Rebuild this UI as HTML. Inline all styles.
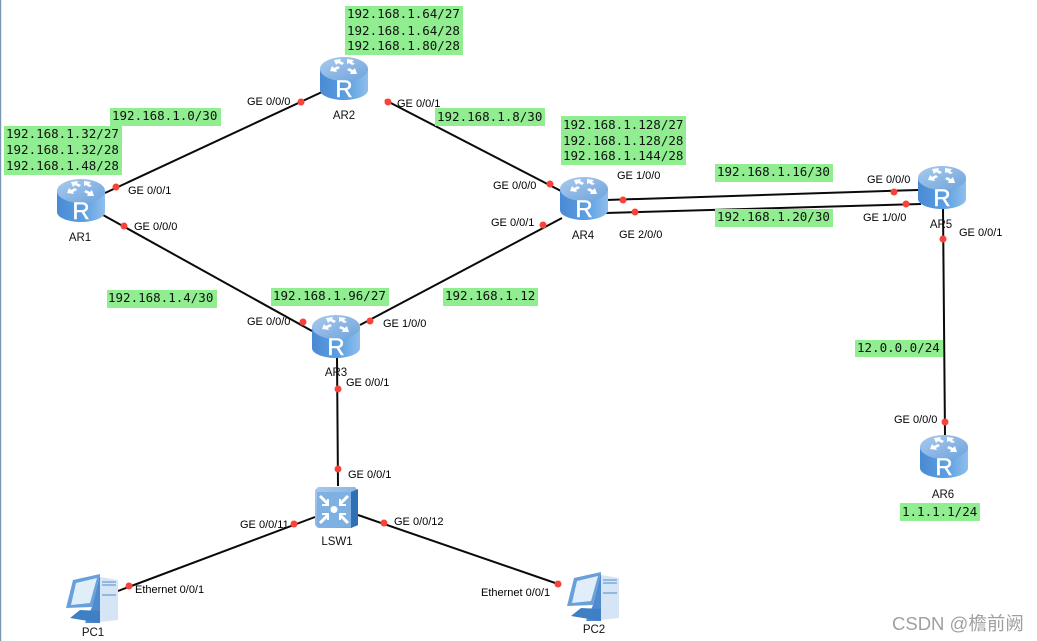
<!DOCTYPE html>
<html><head><meta charset="utf-8"><style>
html,body{margin:0;padding:0;background:#fff;width:1037px;height:641px;overflow:hidden}
svg{display:block}
.l{font:11px "Liberation Sans",sans-serif;fill:#000}
.n{font:11.5px "Liberation Sans",sans-serif;fill:#111}
.m{font:12.5px "DejaVu Sans Mono",monospace;fill:#111}
.g{fill:#90ee90}
.c{stroke:#0a0a0a;stroke-width:2;fill:none}
.d{fill:#f9423a}
</style></head><body>
<svg width="1037" height="641" viewBox="0 0 1037 641" xmlns="http://www.w3.org/2000/svg">
<defs>
<linearGradient id="rb" x1="0" x2="1" y1="0" y2="0"><stop offset="0" stop-color="#4a8ad4"/><stop offset=".55" stop-color="#5c9fe2"/><stop offset="1" stop-color="#8fbfeb"/></linearGradient>
<linearGradient id="rt" x1="0" x2="1" y1="0" y2="1"><stop offset="0" stop-color="#a9cbee"/><stop offset="1" stop-color="#6fa3dc"/></linearGradient>
<linearGradient id="sw" x1="0" x2="1" y1="0" y2="1"><stop offset="0" stop-color="#a8caec"/><stop offset="1" stop-color="#6fa3dc"/></linearGradient>
<g id="router">
<path d="M-24 -9V12C-24 18 -12 22 0 22S24 18 24 12V-9Z" fill="url(#rb)"/>
<ellipse cx="0" cy="-9" rx="24" ry="12" fill="url(#rt)"/>
<g fill="#fff">
<path d="M-10 -18l7 -1-1 2 4 2-2 2-4-2-2 2zM3 -19l7 1-2 2 3 2-3 1-3-2-2 1zM-14 -7l2-5 2 2 4-2 2 2-4 2 1 2zM13 -4l-7 0 1-2-4-2 2-2 4 2 2-2z"/>
</g>
<text x="0" y="19" text-anchor="middle" font-family="Liberation Sans,sans-serif" font-size="24" fill="#fff" stroke="#fff" stroke-width=".4">R</text>
</g>
<g id="pc">
<path d="M35 1L35 50L20 50L27 34Z" fill="#4f8ace"/>
<path d="M35 4L53 7V47L35 49Z" fill="#d5e5f5"/>
<path d="M37 9H51M37 12H51M37 22H51" stroke="#7fa9d8" stroke-width="1.5"/>
<path d="M8 7L35 1 27 34 1 35Z" fill="#6aa0da"/>
<path d="M11 10L32 5 25 30 6 32Z" fill="#e0eefa"/>
<path d="M15 37L35 38V50L5 45Z" fill="#3f7fc4"/>
</g>
</defs>
<rect x="0" y="0" width="1.2" height="641" fill="#7a95b0"/>

<g class="c">
<path d="M105 193L322 92"/>
<path d="M103 215L312 331"/>
<path d="M385 100L561 191"/>
<path d="M360 325L562 218"/>
<path d="M606 200L918 190"/>
<path d="M606 213L921 204"/>
<path d="M943 208L945 436"/>
<path d="M337 358L338 486"/>
<path d="M358 515L561 585"/>
<path d="M315 517L118 591"/>
</g>

<g class="g">
<rect x="4" y="126" width="118" height="49"/>
<rect x="110" y="108" width="111" height="18"/>
<rect x="345" y="6" width="118" height="49"/>
<rect x="435" y="108" width="110" height="18"/>
<rect x="561" y="116" width="125" height="49"/>
<rect x="715" y="164" width="118" height="18"/>
<rect x="715" y="209" width="118" height="18"/>
<rect x="107" y="290" width="110" height="18"/>
<rect x="271" y="288" width="118" height="18"/>
<rect x="443" y="288" width="95" height="18"/>
<rect x="855" y="340" width="88" height="17"/>
<rect x="900" y="503" width="80" height="18"/>
</g>

<use href="#router" x="81" y="200"/>
<use href="#router" x="344" y="78"/>
<use href="#router" x="336" y="336"/>
<use href="#router" x="584" y="198"/>
<use href="#router" x="942" y="187"/>
<use href="#router" x="944" y="456"/>

<g transform="translate(315,487)">
<path d="M3 0H40L43 4V38L36 41H3L0 38V3Z" fill="url(#sw)"/>
<path d="M36 5L43 2V38L36 41Z" fill="#2f6fb5"/>
<rect x="2" y="5" width="34" height="35" fill="#7fb0e2"/>
<path d="M5 9L13 17M33 9L25 17M5 36L13 28M33 36L25 28" stroke="#fff" stroke-width="3"/>
<path d="M13 12V18H7M25 12V18H31M13 33V27H7M25 33V27H31" stroke="#fff" stroke-width="2" fill="none"/>
<circle cx="19" cy="22.5" r="3.5" fill="#fff"/>
</g>

<use href="#pc" x="65" y="573"/>
<use href="#pc" x="566" y="571"/>

<g class="d">
<circle cx="116" cy="187" r="3.5"/><circle cx="124" cy="226" r="3.5"/>
<circle cx="301" cy="102" r="3.5"/><circle cx="388" cy="102" r="3.5"/>
<circle cx="550" cy="184" r="3.5"/><circle cx="543" cy="225" r="3.5"/>
<circle cx="303" cy="322" r="3.5"/><circle cx="370" cy="321" r="3.5"/>
<circle cx="623" cy="200" r="3.5"/><circle cx="635" cy="212" r="3.5"/>
<circle cx="894" cy="192" r="3.5"/><circle cx="906" cy="204" r="3.5"/>
<circle cx="943" cy="239" r="3.5"/><circle cx="945" cy="422" r="3.5"/>
<circle cx="338" cy="389" r="3.5"/><circle cx="338" cy="469" r="3.5"/>
<circle cx="294" cy="524" r="3.5"/><circle cx="384" cy="523" r="3.5"/>
<circle cx="129" cy="586" r="3.5"/><circle cx="558" cy="584" r="3.5"/>
</g>

<g class="m">
<text x="6" y="138">192.168.1.32/27</text><text x="6" y="154">192.168.1.32/28</text><text x="6" y="170">192.168.1.48/28</text>
<text x="112" y="120">192.168.1.0/30</text>
<text x="347" y="18">192.168.1.64/27</text><text x="347" y="35">192.168.1.64/28</text><text x="347" y="50">192.168.1.80/28</text>
<text x="437" y="121">192.168.1.8/30</text>
<text x="563" y="129">192.168.1.128/27</text><text x="563" y="145">192.168.1.128/28</text><text x="563" y="160">192.168.1.144/28</text>
<text x="717" y="176">192.168.1.16/30</text>
<text x="717" y="221">192.168.1.20/30</text>
<text x="108" y="302">192.168.1.4/30</text>
<text x="273" y="300">192.168.1.96/27</text>
<text x="445" y="300">192.168.1.12</text>
<text x="857" y="352">12.0.0.0/24</text>
<text x="902" y="516">1.1.1.1/24</text>
</g>

<g class="l">
<text x="128" y="194">GE 0/0/1</text>
<text x="134" y="230">GE 0/0/0</text>
<text x="247" y="105">GE 0/0/0</text>
<text x="397" y="107">GE 0/0/1</text>
<text x="493" y="189">GE 0/0/0</text>
<text x="491" y="226">GE 0/0/1</text>
<text x="247" y="325">GE 0/0/0</text>
<text x="383" y="327">GE 1/0/0</text>
<text x="617" y="179">GE 1/0/0</text>
<text x="619" y="238">GE 2/0/0</text>
<text x="867" y="183">GE 0/0/0</text>
<text x="863" y="221">GE 1/0/0</text>
<text x="959" y="236">GE 0/0/1</text>
<text x="894" y="423">GE 0/0/0</text>
<text x="346" y="386">GE 0/0/1</text>
<text x="348" y="478">GE 0/0/1</text>
<text x="240" y="528">GE 0/0/11</text>
<text x="394" y="525">GE 0/0/12</text>
<text x="135" y="593">Ethernet 0/0/1</text>
<text x="481" y="596">Ethernet 0/0/1</text>
</g>

<g class="n" text-anchor="middle">
<text x="80" y="241">AR1</text>
<text x="344" y="119">AR2</text>
<text x="336" y="376">AR3</text>
<text x="583" y="239">AR4</text>
<text x="941" y="228">AR5</text>
<text x="943" y="498">AR6</text>
<text x="337" y="545">LSW1</text>
<text x="93" y="636">PC1</text>
<text x="594" y="633">PC2</text>
</g>

<text x="892" y="630" font-family="Liberation Sans,'Noto Sans CJK SC',sans-serif" font-size="18.5" fill="#a0a0a0">CSDN @檐前阙</text>
</svg>
</body></html>
